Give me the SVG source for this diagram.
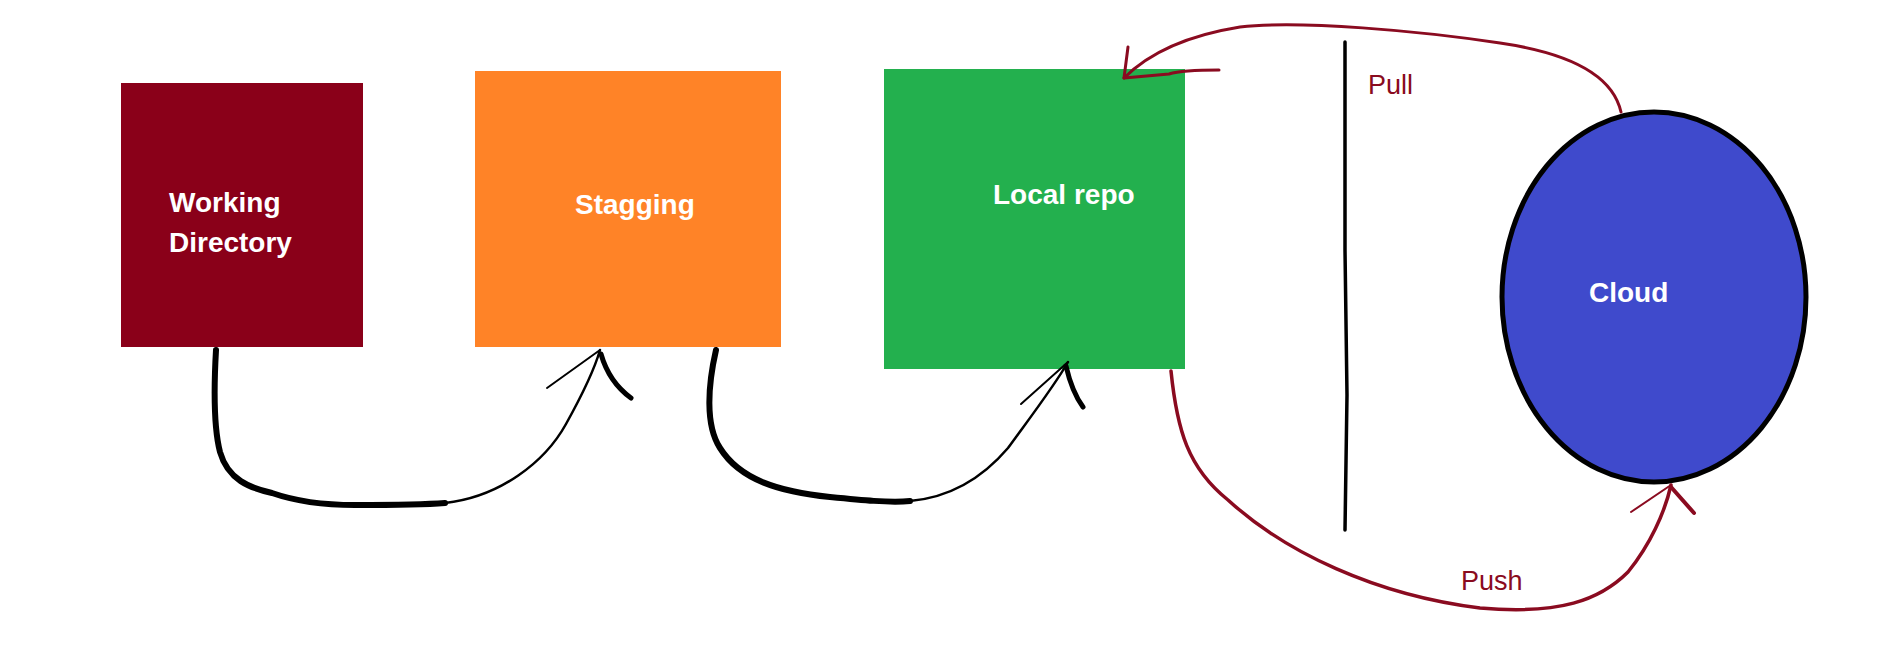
<svg xmlns="http://www.w3.org/2000/svg" width="1892" height="648" viewBox="0 0 1892 648">
<style>
.lbl{font-family:"Liberation Sans",Arial,sans-serif;font-weight:bold;font-size:28px;fill:#ffffff}
.rl{font-family:"Liberation Sans",Arial,sans-serif;font-size:27px;fill:#8a0b20}
.bk{fill:none;stroke:#000;stroke-linecap:round;stroke-linejoin:round}
.rd{fill:none;stroke:#8a0b20;stroke-linecap:round;stroke-linejoin:round}
</style>
<rect width="1892" height="648" fill="#ffffff"/>
<g id="working-directory">
<rect x="121" y="83" width="242" height="264" fill="#8a0019"/>
<text class="lbl" x="169" y="212">Working</text>
<text class="lbl" x="169" y="252">Directory</text>
</g>
<g id="stagging">
<rect x="475" y="71" width="306" height="276" fill="#ff8327"/>
<text class="lbl" x="575" y="214">Stagging</text>
</g>
<g id="local-repo">
<rect x="884" y="69" width="301" height="300" fill="#23b04e"/>
<text class="lbl" x="993" y="204">Local repo</text>
</g>
<g id="cloud">
<ellipse cx="1654" cy="297" rx="152" ry="185" fill="#3f4acc" stroke="#000" stroke-width="5"/>
<text class="lbl" x="1589" y="302">Cloud</text>
</g>
<g id="divider">
<path class="bk" stroke-width="3.5" d="M1345,42 L1345,250 L1347,395 L1345,530"/>
</g>
<g id="connectors">
<path class="bk" stroke-width="6" d="M216,350 C214,385 213,425 220,452 C228,480 250,488 272,493 C295,501 325,505 355,505 C390,505 420,505 445,503"/>
<path class="bk" stroke-width="2.5" d="M445,503 C500,497 545,462 566,424 C586,388 596,364 600,350"/>
<path class="bk" stroke-width="2" d="M547,388 L600,350"/>
<path class="bk" stroke-width="5" d="M601,354 Q609,382 631,398"/>
<path class="bk" stroke-width="6" d="M716,350 C708,385 705,425 720,448 C740,480 780,492 830,497 C860,500 890,503 910,501"/>
<path class="bk" stroke-width="2.5" d="M910,501 C955,497 985,475 1008,448 C1032,415 1055,385 1068,362"/>
<path class="bk" stroke-width="2" d="M1021,404 L1068,362"/>
<path class="bk" stroke-width="5" d="M1066,366 Q1072,392 1083,407"/>
<path class="rd" stroke-width="3" d="M1621,112 C1612,72 1562,52 1500,43 C1420,31 1300,20 1240,27 C1190,35 1150,52 1124,78"/>
<path class="rd" stroke-width="3" d="M1128,47 L1124,78 L1169,74 Q1182,70 1219,70"/>
<text class="rl" x="1368" y="94">Pull</text>
<path class="rd" stroke-width="3.5" d="M1171,371 C1177,430 1188,468 1228,500 C1285,552 1375,595 1480,608 C1560,615 1600,600 1628,572 C1650,545 1665,512 1671,485"/>
<path class="rd" stroke-width="2" d="M1631,512 L1671,485"/>
<path class="rd" stroke-width="4" d="M1671,487 L1694,513"/>
<text class="rl" x="1461" y="590">Push</text>
</g>
</svg>
